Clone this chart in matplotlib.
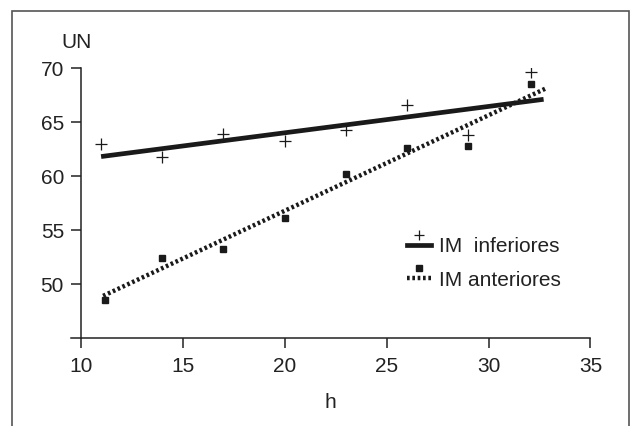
import numpy as np
import matplotlib
matplotlib.use('Agg')
import matplotlib.pyplot as plt
from matplotlib.lines import Line2D
from matplotlib.legend_handler import HandlerLine2DCompound
from matplotlib.patches import Rectangle

# data
h_inf = [11, 14, 17, 20, 23, 26, 29, 32.1]
un_inf = [63.0, 61.8, 63.9, 63.2, 64.3, 66.6, 63.8, 69.6]
h_ant = [11.2, 14, 17, 20, 23, 26, 29, 32.1]
un_ant = [48.5, 52.4, 53.2, 56.1, 60.2, 62.6, 62.8, 68.5]

# regression lines (end points as drawn)
fit_inf_x = [11, 32.7]
fit_inf_y = [61.8, 67.1]
fit_ant_x = [11.1, 32.8]
fit_ant_y = [48.9, 68.1]

labels = ['IM  inferiores', 'IM anteriores']
xticks = [10, 15, 20, 25, 30, 35]
yticks = [50, 55, 60, 65, 70]

plt.rcParams['font.family'] = ['Liberation Sans', 'DejaVu Sans']

fig = plt.figure(figsize=(6.31, 4.26), dpi=100)
ax = fig.add_axes([70.5 / 631, 1 - 338 / 426, 520 / 631, 270 / 426])

dots = (0, (0.6, 0.6))
ax.plot(fit_inf_x, fit_inf_y, color='#1a1a1a', lw=3.4, solid_capstyle='butt')
ax.plot(fit_ant_x, fit_ant_y, color='#1a1a1a', lw=3.2, linestyle=dots)
ax.plot(h_inf, un_inf, linestyle='none', marker='+', ms=8, mew=0.9, color='#1a1a1a')
ax.plot(h_ant, un_ant, linestyle='none', marker='s', ms=5, color='#1a1a1a')

ax.set_xlim(9.5, 35)
ax.set_ylim(45, 70)
ax.spines['top'].set_visible(False)
ax.spines['right'].set_visible(False)
ax.spines['left'].set_position(('data', 10))
ax.spines['left'].set_bounds(45, 70)
for s in ('left', 'bottom'):
    ax.spines[s].set_linewidth(1.1)
    ax.spines[s].set_color('#222222')
ax.set_xticks(xticks)
ax.set_yticks(yticks)
ax.tick_params(length=7, width=1.1, color='#222222', labelsize=15, labelcolor='#222222')
ax.tick_params(axis='x', pad=7)
ax.tick_params(axis='y', pad=5)
ax.set_xlabel('h', fontsize=15, color='#222222', labelpad=12)
ax.text(77 / 631, 1 - 43 / 426, 'UN', transform=fig.transFigure, fontsize=15,
        color='#222222', ha='center', va='center')


class MarkerAbove(HandlerLine2DCompound):
    def create_artists(self, legend, orig_handle, xdescent, ydescent,
                       width, height, fontsize, trans):
        arts = super().create_artists(legend, orig_handle, xdescent, ydescent,
                                      width, height, fontsize, trans)
        line, mark = arts
        mark.set_ydata(np.asarray(mark.get_ydata()) + height * 0.7)
        return arts


h1 = Line2D([], [], color='#1a1a1a', lw=3.4, marker='+', ms=7, mew=0.9)
h2 = Line2D([], [], color='#1a1a1a', lw=3.2, linestyle=dots, marker='s', ms=5)
fig.legend([h1, h2], labels, loc='upper left', bbox_to_anchor=(407 / 631, 1 - 237 / 426),
           frameon=False, fontsize=15, numpoints=1, handlelength=1.15, handletextpad=0.4,
           labelspacing=0.7, borderpad=0, borderaxespad=0,
           handler_map={Line2D: MarkerAbove()}, labelcolor='#222222')

# outer frame
fig.patches.append(Rectangle((12 / 631, -0.05), 617 / 631, 1.05 - 11 / 426,
                             transform=fig.transFigure, fill=False, lw=1.2,
                             edgecolor='#555555', clip_on=False))

fig.savefig('out.png', dpi=100)
